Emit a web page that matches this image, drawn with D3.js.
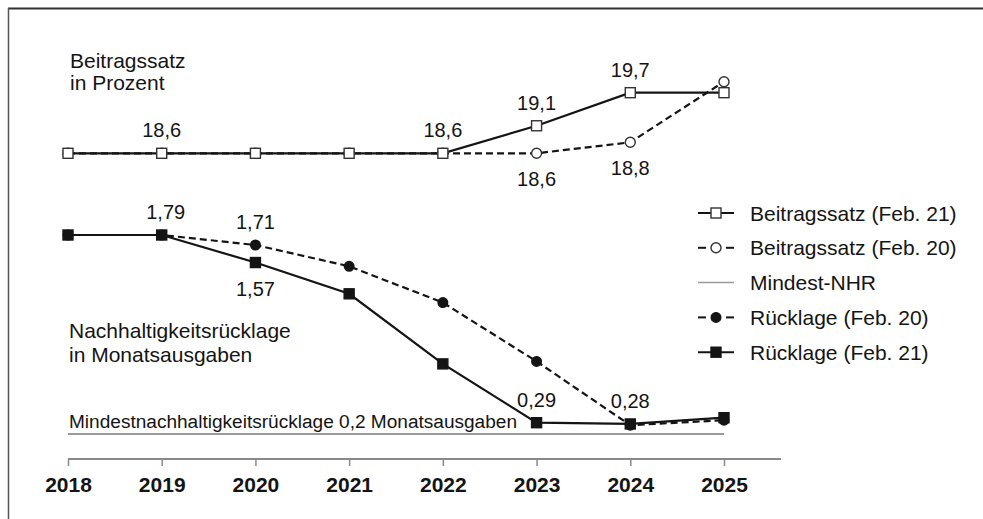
<!DOCTYPE html>
<html>
<head>
<meta charset="utf-8">
<script src="https://cdn.jsdelivr.net/npm/d3@7/dist/d3.min.js"></script>
<style>
html,body{margin:0;padding:0;background:#fff;}
svg{display:block;font-family:"Liberation Sans",Arial,sans-serif;}
</style>
</head>
<body>
<svg id="chart" width="983" height="519"></svg>
<script>
// ---- data ----
const years = [2018, 2019, 2020, 2021, 2022, 2023, 2024, 2025];
const beitragFeb21 = [18.6, 18.6, 18.6, 18.6, 18.6, 19.1, 19.7, 19.7];
const beitragFeb20 = [18.6, 18.6, 18.6, 18.6, 18.6, 18.6, 18.8, 19.9];
const ruecklageFeb20 = [1.79, 1.79, 1.71, 1.54, 1.25, 0.78, 0.27, 0.31];
const ruecklageFeb21 = [1.79, 1.79, 1.57, 1.32, 0.76, 0.29, 0.28, 0.33];
const mindestNHR = 0.2;
const legendLabels = ["Beitragssatz (Feb. 21)", "Beitragssatz (Feb. 20)", "Mindest-NHR", "Rücklage (Feb. 20)", "Rücklage (Feb. 21)"];
// value labels: [year, series, text, above?]
const valueLabels = [
  [2019, "b21", "18,6", true],
  [2022, "b21", "18,6", true],
  [2023, "b21", "19,1", true],
  [2024, "b21", "19,7", true],
  [2023, "b20", "18,6", false],
  [2024, "b20", "18,8", false],
  [2019, "r21", "1,79", true],
  [2020, "r20", "1,71", true],
  [2020, "r21", "1,57", false],
  [2023, "r21", "0,29", true],
  [2024, "r21", "0,28", true]
];

// ---- layout ----
const svg = d3.select("#chart");
const x = d3.scalePoint().domain(years).range([68, 724]);
const yTop = d3.scaleLinear().domain([18.6, 19.7]).range([153.3, 92.7]);
const yBot = d3.scaleLinear().domain([0, 1.79]).range([459, 235]);
const ink = "#141414";

// frame
svg.append("line").attr("x1", 8).attr("x2", 983).attr("y1", 8.5).attr("y2", 8.5)
  .attr("stroke", "#333").attr("stroke-width", 2);
svg.append("line").attr("x1", 8.5).attr("x2", 8.5).attr("y1", 8).attr("y2", 519)
  .attr("stroke", "#555").attr("stroke-width", 1.5);

// x axis
const axis = svg.append("g").attr("transform", "translate(0,459)")
  .call(d3.axisBottom(x).tickSize(7).tickSizeOuter(0).tickPadding(12));
axis.select(".domain").remove();
axis.append("line").attr("x1", 68).attr("x2", 781).attr("y1", 0).attr("y2", 0)
  .attr("stroke", "#8a8a8a").attr("stroke-width", 2.2);
axis.selectAll(".tick line").attr("stroke", "#8a8a8a").attr("stroke-width", 1.5);
axis.selectAll(".tick text").attr("font-family", "'Liberation Sans', Arial, sans-serif")
  .attr("font-size", 21).attr("font-weight", "bold").attr("fill", ink)
  .attr("dy", "0.71em").attr("y", 18);

// min line
svg.append("line").attr("x1", x(2018)).attr("x2", x(2025))
  .attr("y1", yBot(mindestNHR)).attr("y2", yBot(mindestNHR))
  .attr("stroke", "#9a9a9a").attr("stroke-width", 2);
svg.append("text").attr("x", 69).attr("y", 428).attr("font-size", 18).attr("fill", ink)
  .attr("textLength", 448).attr("lengthAdjust", "spacingAndGlyphs")
  .text("Mindestnachhaltigkeitsrücklage 0,2 Monatsausgaben");

// titles
const t1 = svg.append("text").attr("x", 70).attr("font-size", 21).attr("fill", ink);
t1.append("tspan").attr("x", 70).attr("y", 68).text("Beitragssatz");
t1.append("tspan").attr("x", 70).attr("y", 90).text("in Prozent");
const t2 = svg.append("text").attr("x", 69).attr("font-size", 21).attr("fill", ink);
t2.append("tspan").attr("x", 69).attr("y", 338).text("Nachhaltigkeitsrücklage");
t2.append("tspan").attr("x", 69).attr("y", 362).text("in Monatsausgaben");

// series
const series = {
  b20: {vals: beitragFeb20, y: yTop, dash: "7,4", marker: "circle", fill: "#fff"},
  b21: {vals: beitragFeb21, y: yTop, dash: null, marker: "square", fill: "#fff"},
  r20: {vals: ruecklageFeb20, y: yBot, dash: "7,4", marker: "circle", fill: ink},
  r21: {vals: ruecklageFeb21, y: yBot, dash: null, marker: "square", fill: ink}
};
const order = ["b20", "b21", "r20", "r21"];

function drawMarker(g, type, cx, cy, fill) {
  if (type === "square") {
    g.append("rect").attr("x", cx - 5).attr("y", cy - 5).attr("width", 10).attr("height", 10)
      .attr("fill", fill).attr("stroke", fill === "#fff" ? "#333" : ink).attr("stroke-width", 1.4);
  } else {
    g.append("circle").attr("cx", cx).attr("cy", cy).attr("r", fill === "#fff" ? 5 : 4.8)
      .attr("fill", fill).attr("stroke", fill === "#fff" ? "#333" : ink).attr("stroke-width", 1.4);
  }
}

order.forEach(k => {
  const s = series[k];
  const line = d3.line().x((d, i) => x(years[i])).y(d => s.y(d));
  svg.append("path").attr("d", line(s.vals)).attr("fill", "none")
    .attr("stroke", ink).attr("stroke-width", 2.2)
    .attr("stroke-dasharray", s.dash);
});
order.forEach(k => {
  const s = series[k];
  const g = svg.append("g");
  s.vals.forEach((v, i) => drawMarker(g, s.marker, x(years[i]), s.y(v), s.fill));
});

// value labels
valueLabels.forEach(([yr, key, txt, above]) => {
  const s = series[key];
  const v = s.vals[years.indexOf(yr)];
  svg.append("text").attr("x", x(yr) + (txt === "1,79" ? 4 : 0))
    .attr("y", s.y(v) + (above ? -16 : 33))
    .attr("text-anchor", "middle").attr("font-size", 20).attr("fill", ink).text(txt);
});

// legend
const lg = svg.append("g");
const legendStyles = [
  {dashed: false, marker: "square", fill: "#fff", color: ink, w: 2},
  {dashed: true, marker: "circle", fill: "#fff", color: ink, w: 2},
  {dashed: false, marker: null, fill: null, color: "#9a9a9a", w: 1.5},
  {dashed: true, marker: "circle", fill: ink, color: ink, w: 2},
  {dashed: false, marker: "square", fill: ink, color: ink, w: 2}
];
legendLabels.forEach((lab, i) => {
  const cy = 213 + i * 34.8;
  const st = legendStyles[i];
  if (st.dashed) {
    [[698, 706], [726, 734]].forEach(([a, b]) =>
      lg.append("line").attr("x1", a).attr("x2", b).attr("y1", cy).attr("y2", cy)
        .attr("stroke", st.color).attr("stroke-width", st.w));
  } else {
    lg.append("line").attr("x1", 698).attr("x2", 734).attr("y1", cy).attr("y2", cy)
      .attr("stroke", st.color).attr("stroke-width", st.w);
  }
  if (st.marker) drawMarker(lg, st.marker, 716, cy, st.fill);
  lg.append("text").attr("x", 750).attr("y", cy + 7.5).attr("font-size", 21).attr("fill", ink).text(lab);
});
</script>
</body>
</html>
